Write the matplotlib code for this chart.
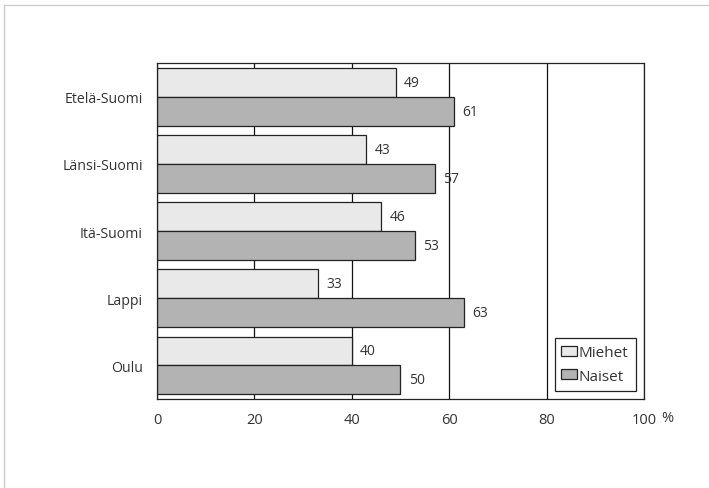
import matplotlib.pyplot as plt
import matplotlib.lines as mlines
import numpy as np

plt.rcParams['font.family'] = ['Open Sans', 'DejaVu Sans']

regions = ['Etelä-Suomi', 'Länsi-Suomi', 'Itä-Suomi', 'Lappi', 'Oulu']
miehet = [49, 43, 46, 33, 40]
naiset = [61, 57, 53, 63, 50]
xticks = [0, 20, 40, 60, 80, 100]

fig = plt.figure(figsize=(7.09, 4.89), dpi=100)
ax = fig.add_axes([0.2214, 0.182, 0.6869, 0.687])

y = np.arange(len(regions))
h = 0.43
b1 = ax.barh(y - h / 2, miehet, height=h, color='#e9e9e9', edgecolor='#222222',
             linewidth=0.9, label='Miehet', zorder=2)
b2 = ax.barh(y + h / 2, naiset, height=h, color='#b3b3b3', edgecolor='#222222',
             linewidth=0.9, label='Naiset', zorder=2)

for bars, vals in ((b1, miehet), (b2, naiset)):
    for bar, v in zip(bars, vals):
        ax.annotate(str(v), (v, bar.get_y() + bar.get_height() / 2),
                    xytext=(6, 0), textcoords='offset points',
                    va='center', ha='left', fontsize=10, color='#333333')

ax.set_xlim(0, 100)
ax.set_ylim(len(regions) - 0.5, -0.5)
ax.set_xticks(xticks)
ax.set_xticklabels([str(t) for t in xticks])
ax.set_yticks(y)
ax.set_yticklabels(regions)
ax.tick_params(length=0, labelsize=10.5, colors='#333333')
ax.tick_params(axis='x', pad=9)
ax.tick_params(axis='y', pad=10, labelsize=10.2)
ax.xaxis.grid(True, color='#111111', linewidth=0.9, zorder=1)
ax.set_axisbelow(True)
for s in ax.spines.values():
    s.set_color('#222222')
    s.set_linewidth(0.9)

ax.text(1.036, -0.055, '%', transform=ax.transAxes, ha='left', va='center',
        fontsize=10.5, color='#333333')

leg = ax.legend(loc='lower right', fancybox=False, edgecolor='#222222',
                framealpha=1, fontsize=11, handlelength=1.0, handleheight=0.6,
                handletextpad=0.15, borderaxespad=0.55, labelspacing=0.55,
                borderpad=0.45)
leg.get_frame().set_linewidth(0.9)
for t in leg.get_texts():
    t.set_color('#333333')

# scan frame
fig.add_artist(mlines.Line2D([4 / 709, 1], [1 - 6 / 489, 1 - 6 / 489],
                             color='#cccccc', linewidth=1))
fig.add_artist(mlines.Line2D([4 / 709, 4 / 709], [0, 1 - 6 / 489],
                             color='#cccccc', linewidth=1))

fig.savefig('out.png', dpi=100)
